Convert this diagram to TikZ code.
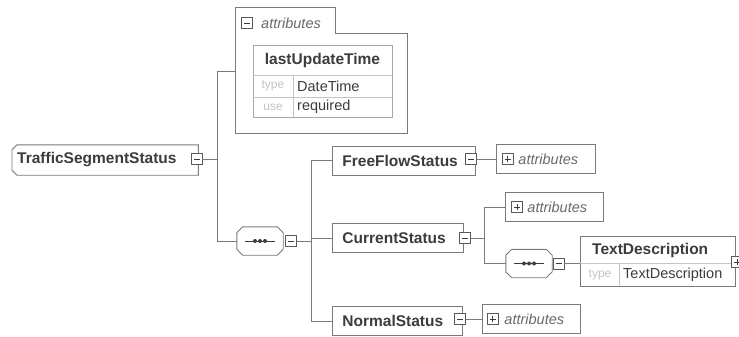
\documentclass[tikz,border=0pt]{standalone}
\usepackage{fontspec}
\setmainfont{Liberation Sans}
\definecolor{linec}{HTML}{7A7A7A}
\definecolor{boxc}{HTML}{5A5A5A}
\definecolor{txtc}{HTML}{3C3C3C}
\definecolor{lightc}{HTML}{C4C4C4}
\definecolor{tblc}{HTML}{A8A8A8}
\definecolor{italc}{HTML}{6A6A6A}
\newcommand\myoctagon[2]{% node name, chamfer
  \draw[draw=linec, line width=0.9pt, fill=white]
    ([xshift=#2]#1.north west) -- ([xshift=-#2]#1.north east) -- ([yshift=-#2]#1.north east)
    -- ([yshift=#2]#1.south east) -- ([xshift=-#2]#1.south east) -- ([xshift=#2]#1.south west)
    -- ([yshift=#2]#1.south west) -- ([yshift=-#2]#1.north west) -- cycle;
  \draw[draw=txtc, line width=0.8pt] ([xshift=-15pt]#1.center) -- ([xshift=15pt]#1.center);
  \foreach \dx in {-5,0,5} \fill[txtc] ([xshift=\dx pt]#1.center) circle (2pt);
}
\begin{document}
\begin{tikzpicture}[x=1pt,y=-1pt,
  conn/.style={draw=linec, line width=0.8pt},
  elem/.style={draw=linec, fill=white, rectangle, font=\bfseries\fontsize{15.5}{18}\selectfont, text=txtc,
    inner xsep=10pt, inner ysep=0pt, minimum height=29pt, anchor=west, align=left, line width=0.9pt},
  attrbox/.style={draw=linec, fill=white, rectangle, font=\itshape\fontsize{14.5}{17}\selectfont, text=italc,
    inner xsep=4pt, inner ysep=0pt, minimum height=29pt, anchor=west, align=left, line width=0.9pt},
  pmbox/.style={draw=boxc, fill=white, minimum size=11pt, inner sep=0pt, line width=0.9pt},
  minusbox/.style={pmbox, path picture={\draw[line width=0.9pt, draw=txtc]
      ([xshift=2.5pt]path picture bounding box.west) -- ([xshift=-2.5pt]path picture bounding box.east);}},
  plusbox/.style={pmbox, path picture={\draw[line width=0.9pt, draw=txtc]
      ([xshift=2.5pt]path picture bounding box.west) -- ([xshift=-2.5pt]path picture bounding box.east)
      ([yshift=2.5pt]path picture bounding box.south) -- ([yshift=-2.5pt]path picture bounding box.north);}},
  seqbox/.style={rectangle, minimum width=46pt, minimum height=28pt, inner sep=0pt},
  boldtxt/.style={font=\bfseries\fontsize{15.5}{18}\selectfont, text=txtc, inner sep=0pt},
  normtxt/.style={font=\fontsize{14.5}{17}\selectfont, text=txtc, inner sep=0pt, anchor=west},
  graytxt/.style={font=\fontsize{12}{14}\selectfont, text=lightc, inner sep=0pt},
  itxt/.style={font=\itshape\fontsize{14.5}{17}\selectfont, text=italc, inner sep=0pt, anchor=west}
]
\useasboundingbox[fill=white] (0,0) rectangle (739,337);

% ---------- root element ----------
\node[rectangle, anchor=west, minimum height=30pt, minimum width=186pt, inner sep=0pt] (tss) at (12,160) {};
\draw[draw=linec, line width=0.9pt, fill=white] ([xshift=5pt]tss.north west) -- (tss.north east) -- (tss.south east) -- ([xshift=5pt]tss.south west)
  -- ([yshift=5pt]tss.south west) -- ([yshift=-5pt]tss.north west) -- cycle;
\node[boldtxt, anchor=west] (tsst) at ([xshift=5pt]tss.west) {TrafficSegmentStatus};
\node[minusbox] (tssm) at (196.5,159) {};

% ---------- attributes container ----------
\draw[draw=linec, line width=0.9pt, fill=white] (235,7) -- (335,7) -- (335,33) -- (407,33) -- (407,133) -- (235,133) -- cycle;
\coordinate (attrin) at (235,71);
\node[minusbox] (attrm) at (247,23) {};
\node[itxt] (attrt) at (261,23) {attributes};
\node[draw=tblc, line width=0.9pt, rectangle, anchor=north west, minimum width=139pt, minimum height=72pt, inner sep=0pt] (lut) at (253,45) {};
\draw[draw=lightc, line width=0.8pt] (253,75) -- (392,75) (253,97) -- (392,97) (293,75) -- (293,117);
\node[boldtxt] (lutt) at (322.5,60) {lastUpdateTime};
\node[graytxt] (lutk1) at (273,86) {type};
\node[normtxt] (lutv1) at (297,86) {DateTime};
\node[graytxt] (lutk2) at (273,107) {use};
\node[normtxt] (lutv2) at (297,107) {required};

% ---------- sequence 1 ----------
\node[seqbox] (seq1) at (260,241) {};
\myoctagon{seq1}{6pt}
\node[minusbox] (seq1m) at (291,241) {};

% ---------- children ----------
\node[elem, text width=123pt] (ffs) at (332,160.5) {FreeFlowStatus};
\node[minusbox] (ffsm) at (471,159) {};
\node[attrbox, minimum width=99pt, text width=91pt] (ffa) at (496,159) {\hspace*{18pt}attributes};
\node[plusbox] (ffap) at (507.5,159) {};

\node[elem, text width=111pt] (cs) at (332,238) {CurrentStatus};
\node[minusbox] (csm) at (465,238) {};
\node[attrbox, minimum width=98pt, text width=90pt] (csa) at (505,207) {\hspace*{18pt}attributes};
\node[plusbox] (csap) at (517,207) {};
\node[seqbox] (seq2) at (529,263.5) {};
\myoctagon{seq2}{6pt}
\node[minusbox] (seq2m) at (558.5,263.5) {};

\node[draw=linec, line width=0.9pt, fill=white, rectangle, anchor=north west, minimum width=155pt, minimum height=50pt, inner sep=0pt] (td) at (580,236) {};
\draw[draw=lightc, line width=0.8pt] (580,263) -- (735,263) (619,263) -- (619,286);
\node[boldtxt, anchor=west] (tdt) at (592,250) {TextDescription};
\node[graytxt] (tdk) at (600,275) {type};
\node[normtxt] (tdv) at (623,275) {TextDescription};
\node[plusbox] (tdp) at (737,262) {};

\node[elem, text width=110pt] (ns) at (332,321) {NormalStatus};
\node[minusbox] (nsm) at (460,319) {};
\node[attrbox, minimum width=98pt, text width=90pt] (nsa) at (482,319) {\hspace*{18pt}attributes};
\node[plusbox] (nsap) at (492.5,319) {};

% ---------- connectors ----------
\draw[conn] (tssm.east) -- ++(15,0) coordinate (j1);
\draw[conn] (attrin) -| (j1) |- (seq1.west);
\draw[conn] (seq1m.east) -- ++(14,0) coordinate (j2);
\draw[conn] (ffs.west) -| (j2) |- (ns.west);
\draw[conn] (cs.west -| j2) -- (cs.west);
\draw[conn] (ffsm.east) -- (ffa.west);
\draw[conn] (csm.east) -- ++(13,0) coordinate (j3);
\draw[conn] (csa.west) -| (j3) |- (seq2.west);
\draw[conn] (seq2m.east) -- (seq2m.east -| td.west);
\draw[conn] (nsm.east) -- (nsa.west);
\end{tikzpicture}
\end{document}
